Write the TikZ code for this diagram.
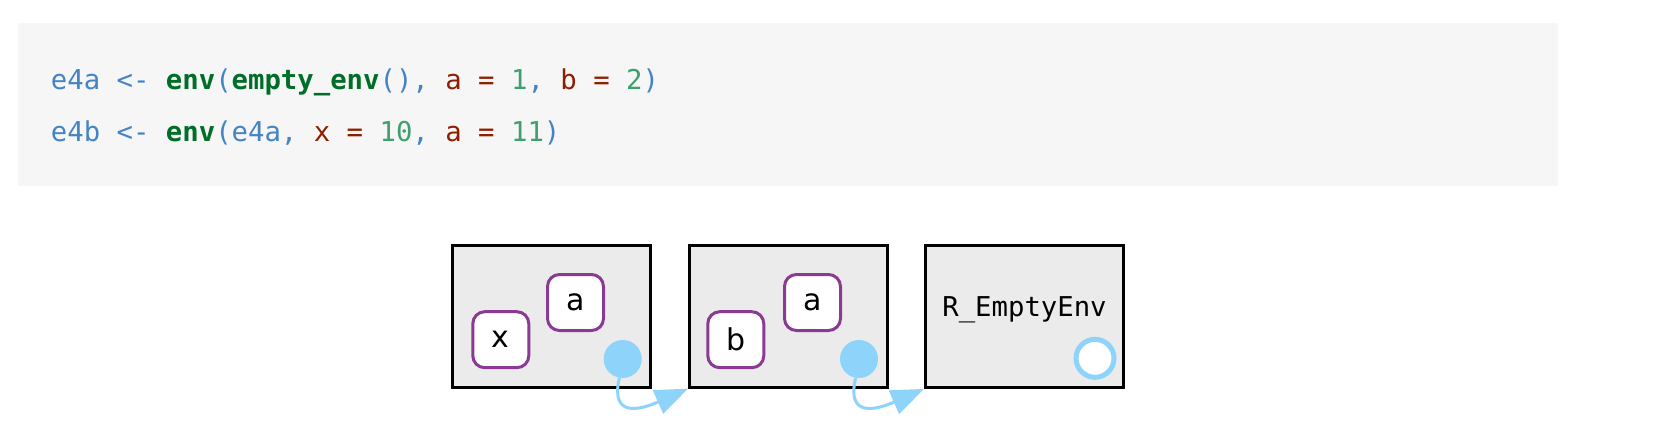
\documentclass[tikz,border=0pt]{standalone}
\usepackage{fontspec}
\setmainfont{DejaVu Sans}
\setmonofont{DejaVu Sans Mono}
\usetikzlibrary{arrows.meta}

\definecolor{codebg}{HTML}{F6F6F6}
\definecolor{codeblue}{HTML}{4483C4}
\definecolor{codegreen}{HTML}{006E28}
\definecolor{codered}{HTML}{8F1D00}
\definecolor{codenum}{HTML}{3F9F6E}
\definecolor{envfill}{HTML}{EBEBEB}
\definecolor{bindline}{HTML}{8A3A92}
\definecolor{parentblue}{HTML}{8DD3FA}

\newcommand{\kw}[1]{\textcolor{codegreen}{\bfseries #1}}
\newcommand{\vr}[1]{\textcolor{codered}{#1}}
\newcommand{\nm}[1]{\textcolor{codenum}{#1}}

\begin{document}
\begin{tikzpicture}
            [
                x=1pt, y=-1pt,
                every node/.style={inner sep=0pt},
                codeline/.style={
                    anchor=base west, font=\ttfamily\fontsize{27.3}{27.3}\selectfont,
                    text=codeblue
                },
                envbox/.style={
                    draw=black, line width=2.8pt, fill=envfill,
                    minimum width=198pt, minimum height=142pt
                },
                binding/.style={
                    draw=bindline, line width=3pt, fill=white,
                    rounded corners=12pt, minimum width=56pt, minimum height=56pt,
                    font=\fontsize{30}{30}\selectfont
                },
                parentdot/.style={
                    circle, fill=parentblue, minimum size=38pt
                },
                emptydot/.style={
                    circle, draw=parentblue, line width=5pt, fill=white,
                    minimum size=38pt
                },
                parentlink/.style={
                    parentblue, line width=3pt,
                    -{Triangle[length=33pt, width=25pt]}
                }
            ]
            \useasboundingbox (0,0) rectangle (1656,434);
            
            % code block
            \fill[codebg] (18.3,23.3) rectangle (1558,185.7);
            \node[codeline] (line1) at (50.7,89.3)
                {e4a <- \kw{env}(\kw{empty\_env}(), \vr{a = }\nm{1}, \vr{b = }\nm{2})};
            \node[codeline] (line2) at (50.7,141.7)
                {e4b <- \kw{env}(e4a, \vr{x = }\nm{10}, \vr{a = }\nm{11})};
            
            % environments
            \node[envbox] (e4b) at (551.7,316.2) {};
            \node[envbox] (e4a) at (788.5,316.2) {};
            \node[envbox, font=\ttfamily\fontsize{27.3}{27.3}\selectfont]
                (empty) at (1024.5,316.5) {\raisebox{0pt}[0pt][0pt]{R\_EmptyEnv}};
            
            % bindings
            \node[binding] (x) at (500.8,339.7) {x};
            \node[binding] (a1) at (575.5,302.5) {a};
            \node[binding] (b) at (735.8,339.7) {b};
            \node[binding] (a2) at (812.5,302.5) {a};
            
            % parents
            \node[parentdot] (p1) at (622.7,359) {};
            \node[parentdot] (p2) at (859,359) {};
            \node[emptydot] (p3) at (1095,358.3) {};
            
            \draw[parentlink] (p1.-100) .. controls (610,418) and (640,410) .. (e4a.south west);
            \draw[parentlink] (p2.-100) .. controls (846,418) and (876,410) .. (empty.south west);
\end{tikzpicture}
\end{document}
